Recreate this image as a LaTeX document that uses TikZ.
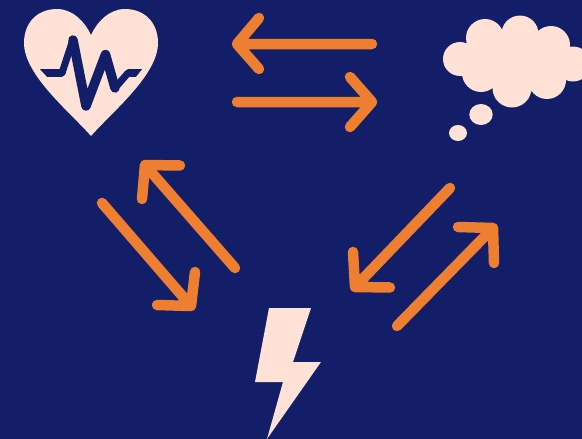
\documentclass[tikz,border=0pt]{standalone}
\definecolor{navy}{HTML}{121E68}
\definecolor{peach}{HTML}{FFE1D6}
\definecolor{orng}{HTML}{EE7E30}
\tikzset{x=1pt,y=-1pt,
  arrowline/.style={draw=orng,line width=10.5pt,line cap=round,line join=round},
  pulsethin/.style={draw=navy,line width=7pt,line join=round,line cap=round},
  pulsethick/.style={draw=navy,line width=9.5pt,line join=round,line cap=round},
  shapefill/.style={fill=peach,draw=none}}
\begin{document}
\begin{tikzpicture}
\useasboundingbox (0,0) rectangle (582,439);
\fill[navy] (0,0) rectangle (582,439);
% heart
\fill[shapefill] (91,136) .. controls (70,112) and (24,75) .. (24,43)
  .. controls (24,22) and (38,9) .. (57,9)
  .. controls (73,9) and (85,22) .. (91,35)
  .. controls (97,22) and (109,9) .. (125,9)
  .. controls (144,9) and (158,22) .. (158,43)
  .. controls (158,75) and (112,112) .. (91,136) -- cycle;
\fill[navy] (40,69.2) -- (62,69.2) -- (66,73) -- (62,76.8) -- (47,76.8) -- cycle;
\fill[navy] (142,69.2) -- (128,69.2) -- (124,73) -- (128,76.8) -- (136,76.8) -- cycle;
\draw[pulsethin] (62,73) -- (73,39.5);
\draw[pulsethick] (73,40) -- (86,106) -- (105.5,54.5) -- (115,88);
\draw[pulsethin] (115,88) -- (128,73);
% cloud
\fill[shapefill] (460,59) circle (17) (485,38) circle (19) (520,34) circle (18.5)
  (551,45) circle (19) (573,64) circle (17.5) (547,80) circle (19)
  (512,88) circle (19.5) (481,73) circle (19) (510,60) circle (25) (480,55) circle (15) (540,60) circle (20);
\fill[shapefill] (481,114.5) ellipse (11.7 and 10.5) (458,133) ellipse (9 and 8);
% bolt
\fill[shapefill] (269,308) -- (311,308) -- (293,362) -- (321,362) -- (267,439) -- (283,382) -- (255,382) -- cycle;
% arrows
\draw[arrowline] (372,44) -- (237,44) (259,18) -- (237,44) -- (259,69);
\draw[arrowline] (237,102) -- (372,102) (350,77) -- (372,102) -- (350,127);
\draw[arrowline] (235,268) -- (145,165) (142,199) -- (145,165) -- (180,165.5);
\draw[arrowline] (102,203) -- (191,306) (157,305) -- (191,306) -- (195,272);
\draw[arrowline] (450,188) -- (355,287) (353,252) -- (355,287) -- (390,287.5);
\draw[arrowline] (397,326) -- (493,228) (458,227) -- (493,228) -- (494,263);
\end{tikzpicture}
\end{document}
